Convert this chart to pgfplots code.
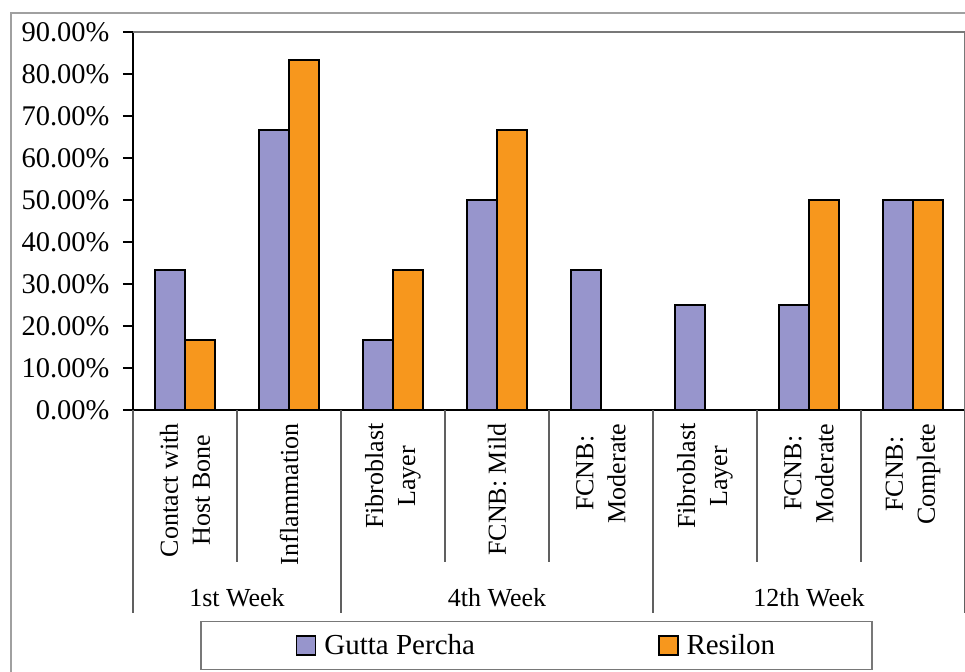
\documentclass[border=0pt]{standalone}
\usepackage{fontspec}
\setmainfont{Liberation Serif}
\usepackage{pgfplots}
\pgfplotsset{compat=1.18}
\definecolor{gp}{RGB}{151,149,204}
\definecolor{rs}{RGB}{247,151,29}
\definecolor{frame}{RGB}{120,120,120}
\begin{document}
\begin{tikzpicture}[x=1bp,y=1bp]
\useasboundingbox (0,0) rectangle (965,672);
% outer frame
\draw[frame!70, line width=2bp] (11,-10) -- (11,659) -- (975,659);
\begin{axis}[
  at={(133bp,262bp)}, anchor=south west,
  scale only axis, width=832bp, height=378bp,
  xmin=-0.5, xmax=7.5, ymin=0, ymax=90,
  clip=false,
  axis x line=bottom, axis y line=left,
  axis line style={-, line width=1.5bp, black},
  xtick={0,...,7},
  xticklabels={Contact with\\Host Bone, Inflammation, Fibroblast\\Layer, FCNB: Mild,
    FCNB:\\Moderate, Fibroblast\\Layer, FCNB:\\Moderate, FCNB:\\Complete},
  x tick style={draw=none},
  x tick label style={rotate=90, anchor=east, align=center,
    font=\fontsize{26bp}{32bp}\selectfont},
  ytick={0,10,...,90},
  yticklabels={0.00\%,10.00\%,20.00\%,30.00\%,40.00\%,50.00\%,60.00\%,70.00\%,80.00\%,90.00\%},
  y tick label style={font=\fontsize{28.5bp}{32bp}\selectfont, xshift=-10bp},
  tick align=outside, major tick length=10bp,
  y tick style={line width=1.2bp, black},
  ybar, bar width=0.288,
  legend columns=2,
  legend style={at={(0.485,-0.623)}, anchor=center, draw=frame, line width=1.5bp,
    font=\fontsize{29bp}{32bp}\selectfont, inner xsep=95bp, inner ysep=11bp,
    /tikz/every odd column/.append style={column sep=6bp},
    /tikz/every even column/.append style={column sep=181bp}},
]
\addplot[fill=gp, draw=black, line width=1.5bp, bar shift=-0.144,
  legend image code/.code={\draw[fill=gp,draw=black,line width=1.5bp] (0bp,-9.5bp) rectangle (19bp,9.5bp);}]
  coordinates {(0,33.33) (1,66.67) (2,16.67) (3,50) (4,33.33) (5,25) (6,25) (7,50)};
\addplot[fill=rs, draw=black, line width=1.5bp, bar shift=0.144,
  legend image code/.code={\draw[fill=rs,draw=black,line width=1.5bp] (0bp,-9.5bp) rectangle (19bp,9.5bp);}]
  coordinates {(0,16.67) (1,83.33) (2,33.33) (3,66.67) (4,0) (5,0) (6,50) (7,50)};
\legend{Gutta Percha, Resilon}
% plot area top and right border
\draw[frame, line width=1.5bp] (rel axis cs:0,1) -- (rel axis cs:1,1) -- (rel axis cs:1,0);
% category separators
\pgfplotsinvokeforeach{0.5,2.5,3.5,5.5,6.5}{
  \draw[frame!80!black, line width=1.2bp] (axis cs:#1,0) -- ++(0bp,-152bp);}
\pgfplotsinvokeforeach{-0.5,1.5,4.5,7.5}{
  \draw[frame!80!black, line width=1.2bp] (axis cs:#1,0) -- ++(0bp,-203bp);}
% group labels
\node[font=\fontsize{26bp}{32bp}\selectfont, yshift=-188bp] at (axis cs:0.5,0) {1st Week};
\node[font=\fontsize{26bp}{32bp}\selectfont, yshift=-188bp] at (axis cs:3,0) {4th Week};
\node[font=\fontsize{26bp}{32bp}\selectfont, yshift=-188bp] at (axis cs:6,0) {12th Week};
\end{axis}
\end{tikzpicture}
\end{document}
